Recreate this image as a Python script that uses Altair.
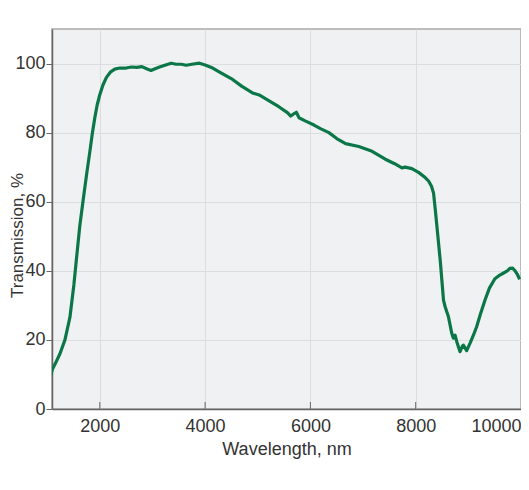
import altair as alt
import pandas as pd

wavelength = [
    1055, 1100, 1150, 1243, 1338, 1432, 1508, 1560, 1620, 1684, 1750, 1811, 1860, 1905, 1950,
    2000, 2060, 2126, 2200, 2284, 2378, 2500, 2600, 2700, 2800, 2900, 2973, 3050, 3135, 3250,
    3356, 3450, 3550, 3640, 3750, 3892, 4000, 4144, 4300, 4522, 4700, 4900, 5027, 5216, 5400,
    5563, 5627, 5700, 5733, 5784, 5900, 6068, 6200, 6352, 6500, 6668, 6919, 7171, 7423, 7600,
    7738, 7800, 7927, 8054, 8180, 8244, 8300, 8339, 8370, 8402, 8466, 8528, 8559, 8622, 8685,
    8716, 8748, 8780, 8842, 8880, 8905, 8968, 9031, 9100, 9157, 9230, 9315, 9400, 9504, 9580,
    9662, 9740, 9788, 9840, 9882, 9930, 9975,
]
transmission = [
    9.0, 11.5, 13.0, 16.0, 20.0, 26.5, 36.0, 44.0, 53.0, 60.5, 68.0, 74.5, 80.0, 84.3, 88.0,
    91.0, 93.8, 96.0, 97.5, 98.4, 98.7, 98.7, 99.0, 98.9, 99.1, 98.4, 98.0, 98.5, 99.0, 99.6,
    100.1, 99.8, 99.8, 99.5, 99.8, 100.1, 99.6, 98.7, 97.3, 95.4, 93.4, 91.5, 90.9, 89.2, 87.5,
    85.8, 84.8, 85.6, 85.9, 84.3, 83.4, 82.2, 81.1, 80.0, 78.3, 76.8, 76.0, 74.6, 72.3, 71.0,
    69.8, 70.0, 69.6, 68.5, 67.0, 66.0, 64.5, 62.5, 58.0, 53.0, 43.0, 31.5, 29.6, 26.7, 21.9,
    20.5, 21.4, 19.5, 16.6, 18.0, 18.5, 16.9, 19.0, 21.5, 23.8, 27.5, 31.5, 35.0, 37.7, 38.6,
    39.3, 40.0, 40.7, 40.8, 40.1, 39.0, 37.5,
]
x_ticks = [2000, 4000, 6000, 8000, 10000]
y_ticks = [0, 20, 40, 60, 80, 100]

df = pd.DataFrame({"Wavelength": wavelength, "Transmission": transmission})
ticks_df = pd.DataFrame({"Wavelength": x_ticks[:-1]})

W, H = 469, 380
xscale = alt.Scale(domain=[1092, 10000], nice=False, zero=False)
yscale = alt.Scale(domain=[0, 110], nice=False)

x_axis = alt.Axis(values=x_ticks, title="Wavelength, nm", format="d",
                  tickSize=0, labelPadding=8, labelFlush=True, titlePadding=5)
y_axis = alt.Axis(values=y_ticks, title="Transmission, %", tickSize=6,
                  labelPadding=1, titlePadding=-12, titleY=206, titleFontSize=17)

line = alt.Chart(df).mark_line(
    color="#0b7748", strokeWidth=3.2, clip=True, strokeJoin="round"
).encode(
    x=alt.X("Wavelength:Q", scale=xscale, axis=x_axis),
    y=alt.Y("Transmission:Q", scale=yscale, axis=y_axis),
)

xticks = alt.Chart(ticks_df).mark_rule(color="#666666", strokeWidth=1).encode(
    x=alt.X("Wavelength:Q", scale=xscale, axis=x_axis),
    y=alt.value(H),
    y2=alt.value(H - 7),
)

chart = alt.layer(line, xticks).properties(
    width=W, height=H,
    autosize=alt.AutoSizeParams(type="none"),
    padding={"left": 44, "top": 21, "right": 0, "bottom": 60},
).configure_view(
    fill="#f0f1f2", stroke="#a9a9a9", strokeWidth=1.5
).configure_axis(
    domainColor="#666666", domainWidth=1.5, tickColor="#666666",
    gridColor="#dcdddf", gridWidth=1,
    labelColor="#333333", titleColor="#333333",
    labelFont="Liberation Sans", titleFont="Liberation Sans",
    labelFontSize=18, titleFontSize=18, titleFontWeight="normal",
)

chart.save("out.html", embed_options={"renderer": "svg", "actions": False})
